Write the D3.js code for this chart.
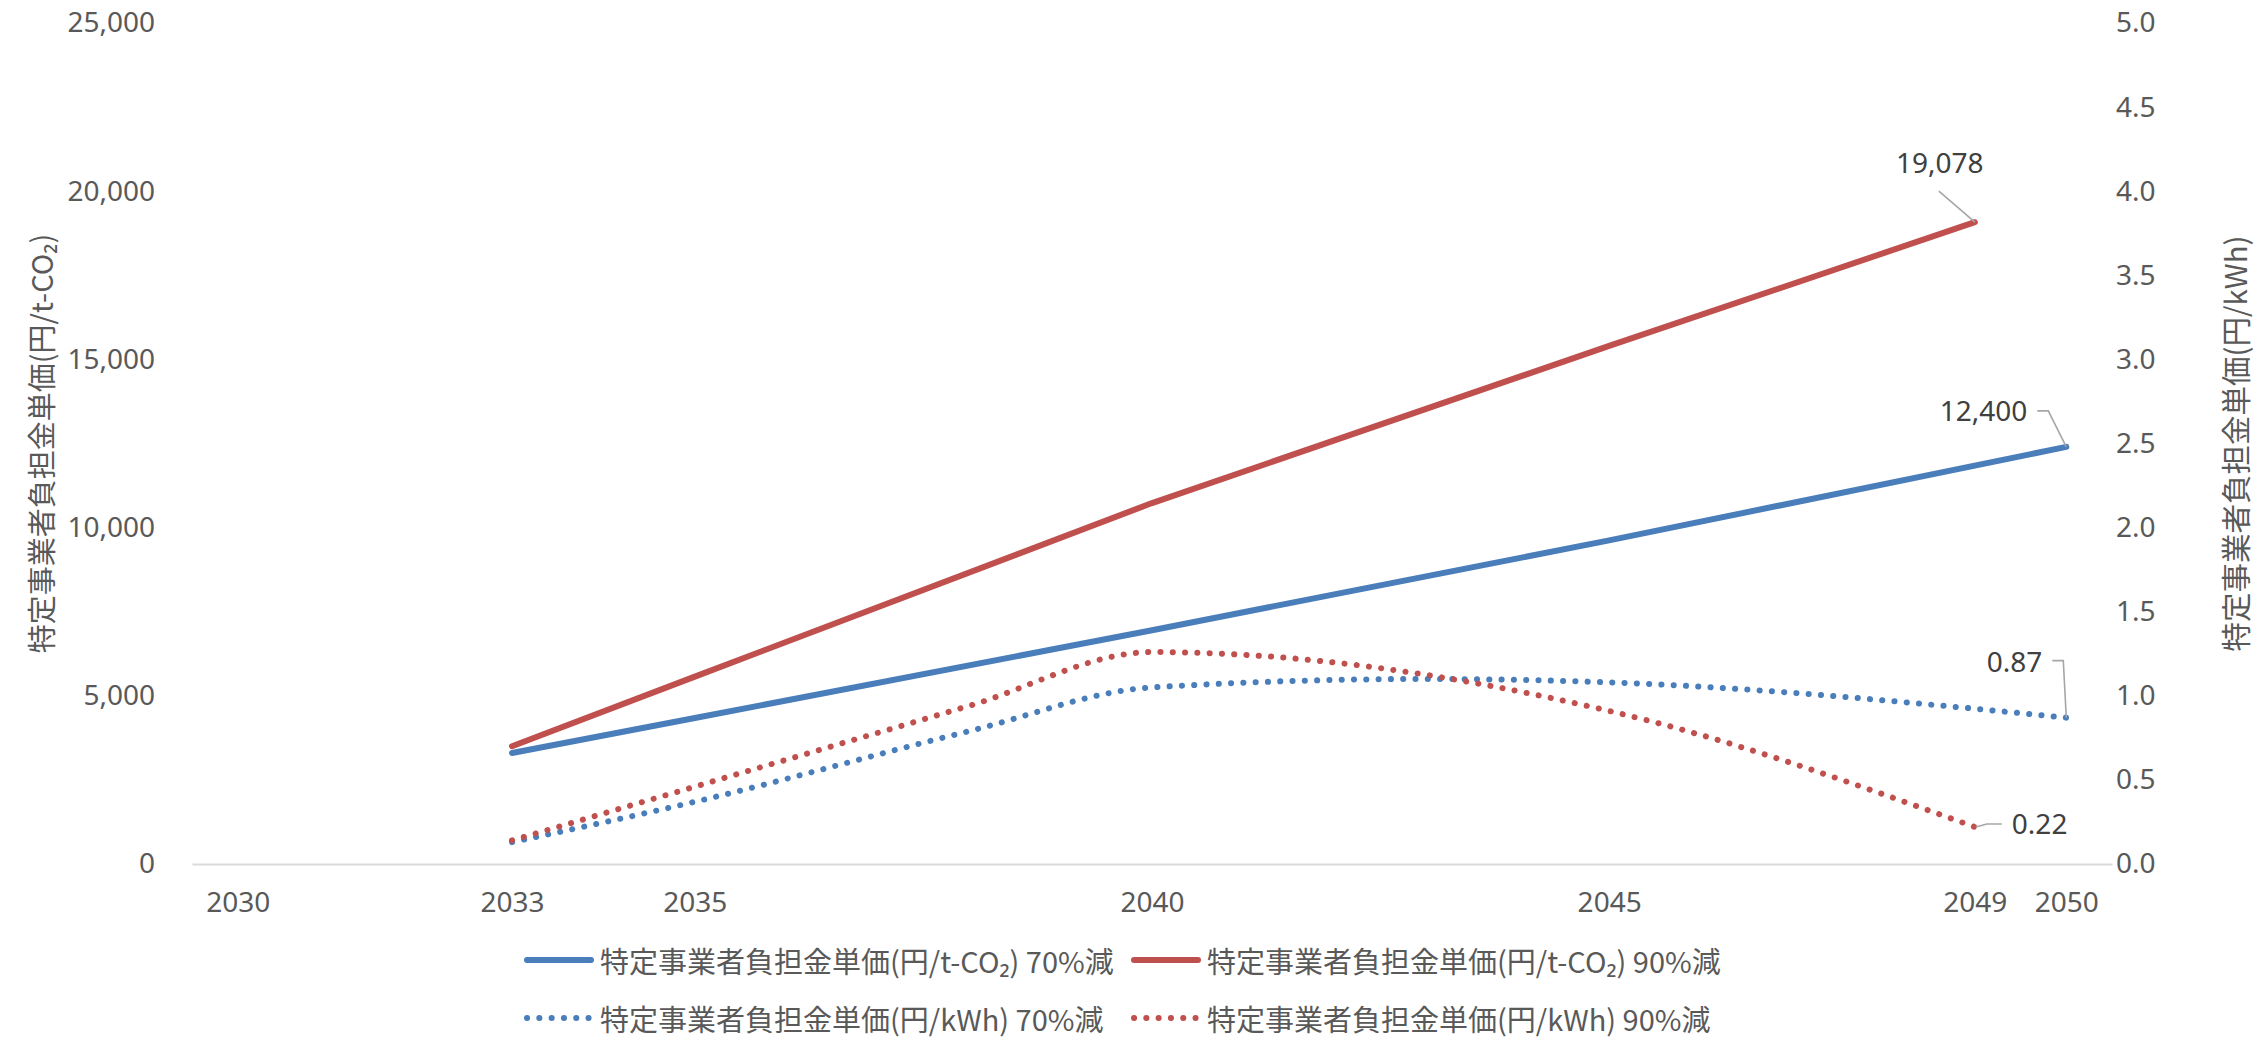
<!DOCTYPE html>
<html lang="ja">
<head>
<meta charset="utf-8">
<script src="https://cdn.jsdelivr.net/npm/d3@7"></script>
<style>
  html, body { margin: 0; padding: 0; background: #ffffff; }
  svg { display: block; }
</style>
</head>
<body>
<svg id="chart" width="2267" height="1045"></svg>
<script>
// 特定事業者負担金単価の見通し（70%減・90%減ケース）
const xTickYears = [2030, 2033, 2035, 2040, 2045, 2049, 2050];
const leftTicks = [0, 5000, 10000, 15000, 20000, 25000];
const rightTicks = [0, 0.5, 1.0, 1.5, 2.0, 2.5, 3.0, 3.5, 4.0, 4.5, 5.0];

// 円/t-CO₂ series
const co2Years70 = [2033, 2035, 2040, 2045, 2050];
const co2Years90 = [2033, 2035, 2040, 2045, 2049];
const co2Cut70 = [3300, 4340, 6950, 9620, 12400];    // 70%減
const co2Cut90 = [3500, 5570, 10730, 15400, 19078];  // 90%減

// 円/kWh series
const kwhYears70 = [2033, 2035, 2038, 2040, 2043, 2045, 2050];
const kwhYears90 = [2033, 2035, 2038, 2040, 2045, 2049];
const kwhCut70 = [0.13, 0.37, 0.79, 1.05, 1.10, 1.08, 0.87];  // 70%減
const kwhCut90 = [0.14, 0.46, 0.94, 1.26, 0.91, 0.22];        // 90%減

const seriesNames = [
  "特定事業者負担金単価(円/t-CO₂) 70%減",
  "特定事業者負担金単価(円/t-CO₂) 90%減",
  "特定事業者負担金単価(円/kWh) 70%減",
  "特定事業者負担金単価(円/kWh) 90%減"
];

const BLUE = "#4a7ebb";
const RED = "#c0504d";
const TICK_COLOR = "#595959";
const LABEL_COLOR = "#404040";
const NUM_FONT = "'Noto Sans', 'Noto Sans CJK JP', sans-serif";
const JP_FONT = "'Noto Sans CJK JP', 'Noto Sans', sans-serif";

const svg = d3.select("#chart");
svg.append("rect").attr("width", 2267).attr("height", 1045).attr("fill", "#fff");

const plot = { left: 192, right: 2112, top: 23, bottom: 864 };

const x = d3.scaleLinear().domain([2029.5, 2050.5]).range([plot.left, plot.right]);
const yL = d3.scaleLinear().domain([0, 25000]).range([plot.bottom, plot.top]);
const yR = d3.scaleLinear().domain([0, 5]).range([plot.bottom, plot.top]);

// Left axis (円/t-CO₂)
const leftAxis = svg.append("g")
  .attr("transform", `translate(${plot.left - 37},0)`)
  .call(d3.axisLeft(yL).tickValues(leftTicks).tickFormat(d3.format(",")).tickSize(0).tickPadding(0));
leftAxis.select(".domain").remove();

// Right axis (円/kWh)
const rightAxis = svg.append("g")
  .attr("transform", `translate(${plot.right + 4},0)`)
  .call(d3.axisRight(yR).tickValues(rightTicks).tickFormat(d3.format(".1f")).tickSize(0).tickPadding(0));
rightAxis.select(".domain").remove();

// Bottom axis (years)
const bottomAxis = svg.append("g")
  .attr("transform", `translate(0,${plot.bottom})`)
  .call(d3.axisBottom(x).tickValues(xTickYears).tickFormat(d3.format("d")).tickSize(0).tickPadding(28));
bottomAxis.select(".domain")
  .attr("stroke", "#d9d9d9").attr("stroke-width", 2);

svg.selectAll(".tick text")
  .attr("fill", TICK_COLOR)
  .style("font-family", NUM_FONT)
  .style("font-size", "28px");

bottomAxis.selectAll(".tick text").attr("dy", "0.72em");

// Axis titles
svg.append("text")
  .attr("transform", `translate(40,${(plot.top + plot.bottom) / 2}) rotate(-90)`)
  .attr("text-anchor", "middle")
  .attr("dominant-baseline", "central")
  .attr("fill", TICK_COLOR)
  .style("font-family", JP_FONT)
  .style("font-size", "29px")
  .text("特定事業者負担金単価(円/t-CO₂)");

svg.append("text")
  .attr("transform", `translate(2234,${(plot.top + plot.bottom) / 2}) rotate(-90)`)
  .attr("text-anchor", "middle")
  .attr("dominant-baseline", "central")
  .attr("fill", TICK_COLOR)
  .style("font-family", JP_FONT)
  .style("font-size", "29.5px")
  .text("特定事業者負担金単価(円/kWh)");

// Series: solid lines are straight segments, the kWh series are smoothed
const solidLine = (ys) => d3.line()
  .x(d => x(d[0])).y(d => ys(d[1]))
  .curve(d3.curveLinear);
const smoothLine = (ys) => d3.line()
  .x(d => x(d[0])).y(d => ys(d[1]))
  .curve(d3.curveMonotoneX);

const series = [
  { years: co2Years70, values: co2Cut70, scale: yL, color: BLUE, dotted: false },
  { years: co2Years90, values: co2Cut90, scale: yL, color: RED, dotted: false },
  { years: kwhYears70, values: kwhCut70, scale: yR, color: BLUE, dotted: true },
  { years: kwhYears90, values: kwhCut90, scale: yR, color: RED, dotted: true }
];

const drawOrder = [2, 3, 0, 1];
drawOrder.forEach(i => {
  const s = series[i];
  const pts = s.years.map((yr, j) => [yr, s.values[j]]);
  const gen = s.dotted ? smoothLine(s.scale) : solidLine(s.scale);
  const p = svg.append("path")
    .attr("d", gen(pts))
    .attr("fill", "none")
    .attr("stroke", s.color)
    .attr("stroke-width", 6)
    .attr("stroke-linecap", "round")
    .attr("stroke-linejoin", "round");
  if (s.dotted) p.attr("stroke-dasharray", "0.1 12.2");
});

// Data labels with leader lines (last point of each series)
const lastOf = s => s.length - 1;
const labels = [
  { px: x(co2Years90[lastOf(co2Years90)]), py: yL(co2Cut90[lastOf(co2Cut90)]),
    text: d3.format(",")(co2Cut90[lastOf(co2Cut90)]),
    tx: -35, ty: -60, anchor: "middle", leader: [[0, 0], [-36, -31]] },
  { px: x(co2Years70[lastOf(co2Years70)]), py: yL(co2Cut70[lastOf(co2Cut70)]),
    text: d3.format(",")(co2Cut70[lastOf(co2Cut70)]),
    tx: -39, ty: -37, anchor: "end", leader: [[0, 0], [-18, -36], [-29, -36]] },
  { px: x(kwhYears70[lastOf(kwhYears70)]), py: yR(kwhCut70[lastOf(kwhCut70)]),
    text: d3.format(".2f")(kwhCut70[lastOf(kwhCut70)]),
    tx: -24, ty: -57, anchor: "end", leader: [[0, 0], [-3, -57], [-14, -57]] },
  { px: x(kwhYears90[lastOf(kwhYears90)]), py: yR(kwhCut90[lastOf(kwhCut90)]),
    text: d3.format(".2f")(kwhCut90[lastOf(kwhCut90)]),
    tx: 37, ty: -4, anchor: "start", leader: [[1, 0], [12, -3], [27, -3]] }
];

labels.forEach(l => {
  svg.append("path")
    .attr("d", d3.line()(l.leader.map(p => [l.px + p[0], l.py + p[1]])))
    .attr("fill", "none")
    .attr("stroke", "#a6a6a6")
    .attr("stroke-width", 1.6);
  svg.append("text")
    .attr("x", l.px + l.tx)
    .attr("y", l.py + l.ty)
    .attr("text-anchor", l.anchor)
    .attr("dominant-baseline", "central")
    .attr("fill", LABEL_COLOR)
    .style("font-family", NUM_FONT)
    .style("font-size", "28px")
    .text(l.text);
});

// Legend
const legendPos = [
  { x: 525, y: 960 }, { x: 1132, y: 960 },
  { x: 525, y: 1018 }, { x: 1132, y: 1018 }
];
series.forEach((s, i) => {
  const g = svg.append("g").attr("transform", `translate(${legendPos[i].x},${legendPos[i].y})`);
  const ln = g.append("line")
    .attr("x1", 2).attr("x2", 66).attr("y1", 0).attr("y2", 0)
    .attr("stroke", s.color)
    .attr("stroke-width", 6)
    .attr("stroke-linecap", "round");
  if (s.dotted) ln.attr("stroke-dasharray", "0.1 12.2");
  g.append("text")
    .attr("x", 75).attr("y", 0)
    .attr("dominant-baseline", "central")
    .attr("fill", TICK_COLOR)
    .style("font-family", JP_FONT)
    .style("font-size", "29px")
    .text(seriesNames[i]);
});
</script>
</body>
</html>
